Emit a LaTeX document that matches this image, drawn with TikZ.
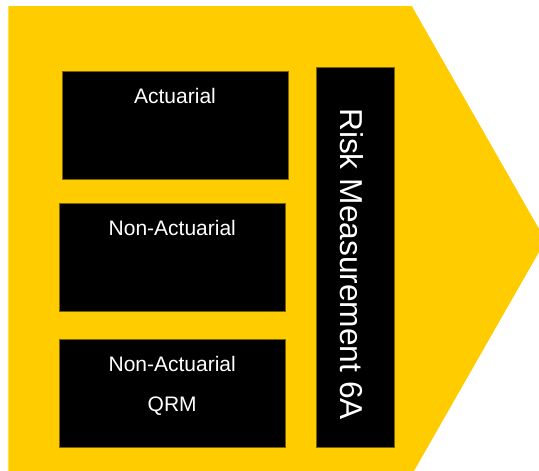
\documentclass[tikz,border=0pt]{standalone}
\usepackage{fontspec}
\setmainfont{Liberation Sans}
\definecolor{gold}{HTML}{FFCC00}
\definecolor{edge}{HTML}{7A6200}
\begin{document}
\begin{tikzpicture}[x=1pt,y=-1pt,
  blk/.style={fill=black, draw=edge, line width=0.4pt, inner sep=0pt, outer sep=0pt, anchor=north west},
  lbl/.style={text=white, inner sep=0pt, anchor=base, font=\fontsize{21}{25}\selectfont}]
\useasboundingbox (0,0) rectangle (539,471);
\clip (0,0) rectangle (539,471);
\fill[gold] (8.3,6) -- (411.7,6) -- (545.6,240.5) -- (411.7,475) -- (8.3,475) -- cycle;
\node[blk, minimum width=226.3pt, minimum height=108pt] (b1) at (62,71) {};
\node[blk, minimum width=226pt, minimum height=107.4pt] (b2) at (59.3,203.3) {};
\node[blk, minimum width=225.7pt, minimum height=107.4pt] (b3) at (59.3,339.3) {};
\node[blk, minimum width=78pt, minimum height=379.4pt] (v) at (316,67.3) {};
\node[lbl] (t1) at (175,103.3) {Actuarial};
\node[lbl] (t2) at (172.3,235.6) {Non-Actuarial};
\node[lbl] (t3) at (172.2,371.6) {Non-Actuarial};
\node[lbl] (t4) at (172.2,411.6) {QRM};
\node[text=white, inner sep=0pt, rotate=-90, anchor=base west, font=\fontsize{31.7}{36}\selectfont] (vt) at (340.7,108) {Risk Measurement 6A};
\end{tikzpicture}
\end{document}
